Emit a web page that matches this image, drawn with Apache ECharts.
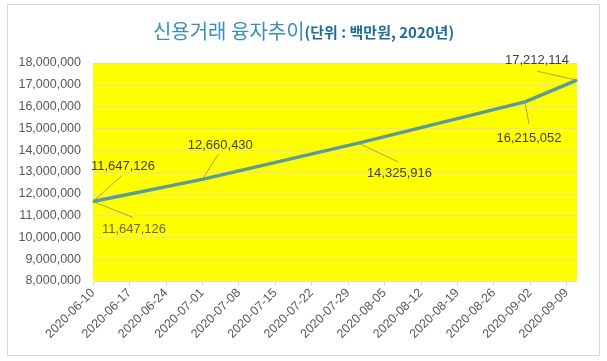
<!DOCTYPE html>
<html>
<head>
<meta charset="utf-8">
<script src="https://cdn.jsdelivr.net/npm/echarts@6/dist/echarts.min.js"></script>
<style>html,body{margin:0;padding:0;background:#fff}#c{width:607px;height:361px}</style>
</head>
<body>
<div id="c"></div>
<script>
// ---- data ----
const startDate = '2020-06-10';
const endDate = '2020-09-11';
const pointDates = ['2020-06-10', '2020-07-01', '2020-07-31', '2020-09-01', '2020-09-11'];
const pointValues = [11647126, 12660430, 14325916, 16215052, 17212114];
const extraLabelDates = ['2020-06-10'];
const extraLabelValues = [11647126];
const tickLabels = ['2020-06-10','2020-06-17','2020-06-24','2020-07-01','2020-07-08','2020-07-15',
  '2020-07-22','2020-07-29','2020-08-05','2020-08-12','2020-08-19','2020-08-26','2020-09-02','2020-09-09'];
const yMin = 8000000, yMax = 18000000, yStep = 1000000;

// label placement (style): [label dx, label dy, leader end dx, leader end dy]
const mainOffsets = [[30, -35, 29, -26], [18, -34, 16, -25], [41, 30, 40, 19], [4, 37, 4, 22], [-40, -20, -40, -9]];
const extraOffsets = [[41, 28, 40, 16]];

function pad(n){return n<10?'0'+n:''+n;}
const days = [];
(function(){
  let d = new Date(startDate + 'T00:00:00Z');
  const e = new Date(endDate + 'T00:00:00Z');
  while (d <= e) {
    days.push(d.getUTCFullYear()+'-'+pad(d.getUTCMonth()+1)+'-'+pad(d.getUTCDate()));
    d = new Date(d.getTime() + 86400000);
  }
})();

const fmt = v => v.toLocaleString('en-US');
const chart = echarts.init(document.getElementById('c'));
const FONT = '"Liberation Sans", Arial, sans-serif';

function layoutFor(offsets){
  return function(p){
    const o = offsets[p.dataIndex] || [0, -20, 0, -10];
    const cx = p.rect.x + p.rect.width / 2, cy = p.rect.y + p.rect.height / 2;
    return { x: cx + o[0], y: cy + o[1], align: 'center', verticalAlign: 'middle' };
  };
}

const labelCommon = {
  show: true, formatter: p => fmt(p.value[1]),
  color: '#404040', fontSize: 13, fontFamily: FONT
};

// leader line data: all labelled points with their offsets
const leaderData = pointDates.map((d, i) => [d, pointValues[i], mainOffsets[i][2], mainOffsets[i][3]])
  .concat(extraLabelDates.map((d, i) => [d, extraLabelValues[i], extraOffsets[i][2], extraOffsets[i][3]]));

chart.setOption({
  animation: false,
  backgroundColor: '#fff',
  graphic: [{
    type: 'rect', shape: { x: 7.5, y: 4.5, width: 592, height: 351 },
    style: { fill: 'none', stroke: '#d9d9d9', lineWidth: 1 }, z: 100
  }],
  title: {
    left: 'center', top: 16,
    text: '{a|신용거래 융자추이}{b|(단위 : 백만원, 2020년)}',
    textStyle: {
      fontWeight: 'normal',
      rich: {
        a: { fontSize: 20, fontWeight: 'normal', color: '#3a8fba', fontFamily: '"Noto Sans CJK KR", sans-serif', verticalAlign: 'bottom' },
        b: { fontSize: 15, fontWeight: 'bold', color: '#1f6c9c', fontFamily: '"Noto Sans CJK KR", sans-serif', verticalAlign: 'bottom', padding: [0,0,1,0] }
      }
    }
  },
  grid: { left: 93, right: 30, top: 63, bottom: 80, show: true, backgroundColor: '#ffff00', borderWidth: 0 },
  xAxis: {
    type: 'category', data: days, boundaryGap: false,
    axisLine: { lineStyle: { color: '#d9d9d9' } },
    axisTick: { show: true, interval: (i, v) => tickLabels.includes(v), length: 5, lineStyle: { color: '#d9d9d9' } },
    axisLabel: { interval: (i, v) => tickLabels.includes(v), rotate: 45, color: '#595959', fontSize: 12.5, fontFamily: FONT, margin: 10 },
    splitLine: { show: false }
  },
  yAxis: {
    type: 'value', min: yMin, max: yMax, interval: yStep,
    axisLine: { show: false }, axisTick: { show: false },
    axisLabel: { formatter: v => fmt(v), color: '#595959', fontSize: 12.5, fontFamily: FONT, margin: 12 },
    splitLine: { lineStyle: { color: '#e4e29a', width: 1 } }
  },
  series: [{
    type: 'custom',
    data: leaderData,
    z: 2,
    silent: true,
    renderItem: function(params, api){
      const pt = api.coord([api.value(0), api.value(1)]);
      return {
        type: 'line',
        shape: { x1: pt[0], y1: pt[1], x2: pt[0] + api.value(2), y2: pt[1] + api.value(3) },
        style: { stroke: '#a8a25a', lineWidth: 1 }
      };
    }
  }, {
    type: 'line',
    data: pointDates.map((d, i) => [d, pointValues[i]]),
    lineStyle: { color: '#5b9c96', width: 3.5 },
    itemStyle: { color: '#5b9c96' },
    symbol: 'circle', symbolSize: 1, showSymbol: true,
    label: labelCommon,
    labelLayout: layoutFor(mainOffsets),
    z: 3
  }, {
    type: 'scatter',
    data: extraLabelDates.map((d, i) => [d, extraLabelValues[i]]),
    symbolSize: 1,
    itemStyle: { color: 'rgba(0,0,0,0)' },
    label: labelCommon,
    labelLayout: layoutFor(extraOffsets),
    z: 4
  }]
});
</script>
</body>
</html>
